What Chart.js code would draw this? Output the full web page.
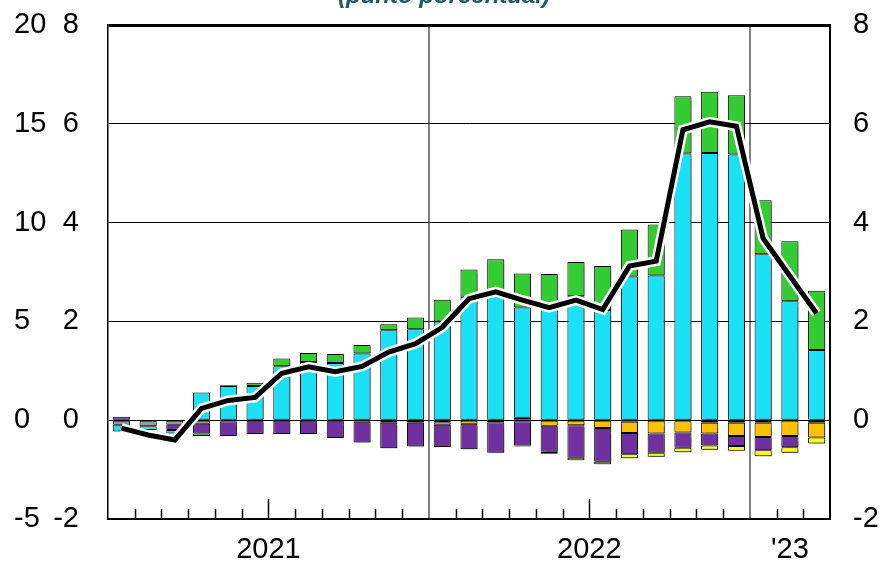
<!DOCTYPE html>
<html>
<head>
<meta charset="utf-8">
<script src="https://cdn.jsdelivr.net/npm/chart.js@4"></script>
<style>
  html, body { margin: 0; padding: 0; background: #fff; }
  #wrap { width: 885px; height: 563px; position: relative; }
</style>
</head>
<body>
<div id="wrap"><canvas id="chart"></canvas></div>
<script>
// --- Data (percentage points), Jan 2021 .. Mar 2023
const months = [
  "2021-01","2021-02","2021-03","2021-04","2021-05","2021-06",
  "2021-07","2021-08","2021-09","2021-10","2021-11","2021-12",
  "2022-01","2022-02","2022-03","2022-04","2022-05","2022-06",
  "2022-07","2022-08","2022-09","2022-10","2022-11","2022-12",
  "2023-01","2023-02","2023-03"
];
const yearLabels = { "2021": "2021", "2022": "2022", "2023": "'23" };

const grayVals   = [-0.09,-0.12,-0.09,-0.07,-0.02,null,null,null,null,-0.03,-0.05,null,-0.04,null,null,0.05,null,null,null,-0.03,null,-0.02,-0.05,-0.05,-0.05,null,-0.05];
const orangeVals = [null,null,null,null,null,null,null,null,null,null,null,-0.05,-0.05,-0.07,-0.04,-0.02,-0.11,-0.10,-0.16,-0.23,-0.27,-0.23,-0.22,-0.27,-0.29,-0.32,-0.30];
const purpleVals = [0.07,null,-0.11,-0.20,-0.30,-0.28,-0.28,-0.28,-0.36,-0.42,-0.52,-0.48,-0.45,-0.52,-0.62,-0.49,-0.53,-0.66,-0.68,-0.43,-0.39,-0.31,-0.24,-0.20,-0.27,-0.23,null];
const cyanVals   = [-0.14,-0.08,-0.07,0.56,0.69,0.69,1.09,1.18,1.16,1.35,1.82,1.84,2.00,2.50,2.53,2.23,2.25,2.51,2.23,2.91,2.93,5.40,5.41,5.38,3.36,2.41,1.42];
const greenVals  = [null,null,null,-0.05,0.02,0.07,0.16,0.18,0.18,0.17,0.12,0.24,0.44,0.55,0.73,0.69,0.71,0.69,0.89,0.95,1.03,1.16,1.24,1.20,1.09,1.21,1.20];
const yellowVals = [null,null,null,null,null,null,null,null,null,null,null,null,null,null,null,-0.02,-0.04,-0.05,-0.05,-0.08,-0.08,-0.09,-0.09,-0.10,-0.12,-0.11,-0.12];
const totalVals  = [-0.16,-0.30,-0.40,0.24,0.40,0.46,0.95,1.08,0.98,1.09,1.38,1.55,1.88,2.46,2.60,2.43,2.28,2.43,2.24,3.12,3.22,5.88,6.04,5.95,3.68,2.92,2.16];

const leftTicksA = [-5, 0, 5, 10, 15, 20];
const leftTicksB = [-2, 0, 2, 4, 6, 8];

const FONT = "'Liberation Sans', Arial, sans-serif";
const FSIZE = 29;

// year centres and boundaries on a 0..N linear axis
const years = [];
months.forEach((m, i) => {
  const y = m.slice(0, 4);
  let g = years.find(o => o.year === y);
  if (!g) { g = { year: y, first: i, last: i }; years.push(g); }
  g.last = i;
});
const yearCenters = years.map(g => (g.first + g.last + 1) / 2);
const yearBounds = years.slice(1).map(g => g.first);

function bar(label, data, color) {
  return {
    type: "bar", label, data,
    backgroundColor: color,
    borderColor: "#000",
    borderWidth: 1,
    borderSkipped: false,
    barPercentage: 0.64,
    categoryPercentage: 1,
    xAxisID: "x", yAxisID: "y",
    order: 2
  };
}

// fixed box sizes, no label overhang padding
function fixWidth(w) {
  return s => { s.width = w; s.paddingTop = 0; s.paddingBottom = 0; };
}

// ------------------------------------------
// PLUGINS
// ------------------------------------------
const barShadow = {
  id: "barShadow",
  beforeDatasetDraw(chart, args) {
    if (args.meta.type !== "bar") return;
    const ctx = chart.ctx;
    ctx.save();
    ctx.shadowColor = "rgba(0,0,0,0.35)";
    ctx.shadowOffsetX = 2;
    ctx.shadowOffsetY = 2;
    ctx.shadowBlur = 1;
  },
  afterDatasetDraw(chart, args) {
    if (args.meta.type !== "bar") return;
    chart.ctx.restore();
  }
};

const monthTicks = {
  id: "monthTicks",
  afterDraw(chart) {
    const ctx = chart.ctx;
    const xs = chart.scales.x2;
    const bottom = chart.chartArea.bottom;
    ctx.save();
    ctx.strokeStyle = "#000";
    ctx.lineWidth = 1.5;
    for (let i = 1; i < months.length; i++) {
      if (yearBounds.includes(i)) continue;
      const len = (i % 6 === 0) ? 20 : 10;
      const px = Math.round(xs.getPixelForValue(i)) + 0.5;
      ctx.beginPath();
      ctx.moveTo(px, bottom);
      ctx.lineTo(px, bottom - len);
      ctx.stroke();
    }
    ctx.restore();
  }
};

const topTitle = {
  id: "topTitle",
  afterDraw(chart) {
    const ctx = chart.ctx;
    ctx.save();
    ctx.font = "italic bold 24px " + FONT;
    ctx.fillStyle = "#1d5a66";
    ctx.textAlign = "center";
    ctx.textBaseline = "alphabetic";
    ctx.fillText("(punto porcentual)", 444, 3);
    ctx.restore();
  }
};

// ------------------------------------------
// CHART
// ------------------------------------------
new Chart(document.getElementById("chart"), {
  data: {
    labels: months,
    datasets: [
      {
        type: "line", label: "total", data: totalVals,
        borderColor: "#000", borderWidth: 5, pointRadius: 0,
        xAxisID: "x", yAxisID: "yR", order: 0
      },
      {
        type: "line", label: "total-halo", data: totalVals,
        borderColor: "#fff", borderWidth: 10, pointRadius: 0,
        xAxisID: "x", yAxisID: "yR", order: 1
      },
      bar("gray", grayVals, "#9a9a9a"),
      bar("orange", orangeVals, "#ffc000"),
      bar("purple", purpleVals, "#7030a0"),
      bar("cyan", cyanVals, "#1ae1f5"),
      bar("green", greenVals, "#33cc33"),
      bar("yellow", yellowVals, "#ffff00")
    ]
  },
  options: {
    responsive: true,
    maintainAspectRatio: false,
    animation: false,
    layout: { autoPadding: false, padding: { left: 14, right: 6, top: 25, bottom: 0 } },
    plugins: { legend: { display: false }, tooltip: { enabled: false } },
    scales: {
      x: {
        type: "category", display: false, offset: true, stacked: true
      },
      x2: {
        type: "linear", position: "bottom", min: 0, max: months.length,
        afterBuildTicks: s => {
          s.ticks = yearCenters.concat(yearBounds).map(v => ({ value: v }));
        },
        afterFit: s => { s.height = 44; s.paddingLeft = 0; s.paddingRight = 0; },
        ticks: {
          autoSkip: false, maxRotation: 0, padding: 14,
          color: "#000", font: { family: FONT, size: FSIZE },
          callback: v => {
            const k = yearCenters.indexOf(v);
            return k >= 0 ? yearLabels[years[k].year] : "";
          }
        },
        grid: {
          drawTicks: false,
          color: c => (c.tick && yearBounds.includes(c.tick.value)) ? "#808080" : "rgba(0,0,0,0)",
          lineWidth: 2
        },
        border: { color: "#000", width: 2 }
      },
      y: {
        position: "left", weight: 0, stacked: true, min: -2, max: 8,
        afterBuildTicks: s => { s.ticks = leftTicksB.map(v => ({ value: v })); },
        afterFit: fixWidth(55),
        ticks: { padding: 29, color: "#000", font: { family: FONT, size: FSIZE } },
        grid: {
          drawTicks: false, color: "#000",
          lineWidth: c => (c.tick && c.tick.value === 8) ? 3 : 1
        },
        border: { color: "#000", width: 1.5 }
      },
      yL2: {
        position: "left", weight: 1, min: -5, max: 20,
        afterBuildTicks: s => { s.ticks = leftTicksA.map(v => ({ value: v })); },
        afterFit: fixWidth(39),
        ticks: { padding: 6, crossAlign: "far", color: "#000", font: { family: FONT, size: FSIZE } },
        grid: { display: false, drawTicks: false },
        border: { display: false }
      },
      yR: {
        position: "right", min: -2, max: 8,
        afterBuildTicks: s => { s.ticks = leftTicksB.map(v => ({ value: v })); },
        afterFit: fixWidth(49),
        ticks: { padding: 23, color: "#000", font: { family: FONT, size: FSIZE } },
        grid: { display: false, drawTicks: false },
        border: { color: "#000", width: 2 }
      }
    }
  },
  plugins: [barShadow, monthTicks, topTitle]
});
</script>
</body>
</html>
